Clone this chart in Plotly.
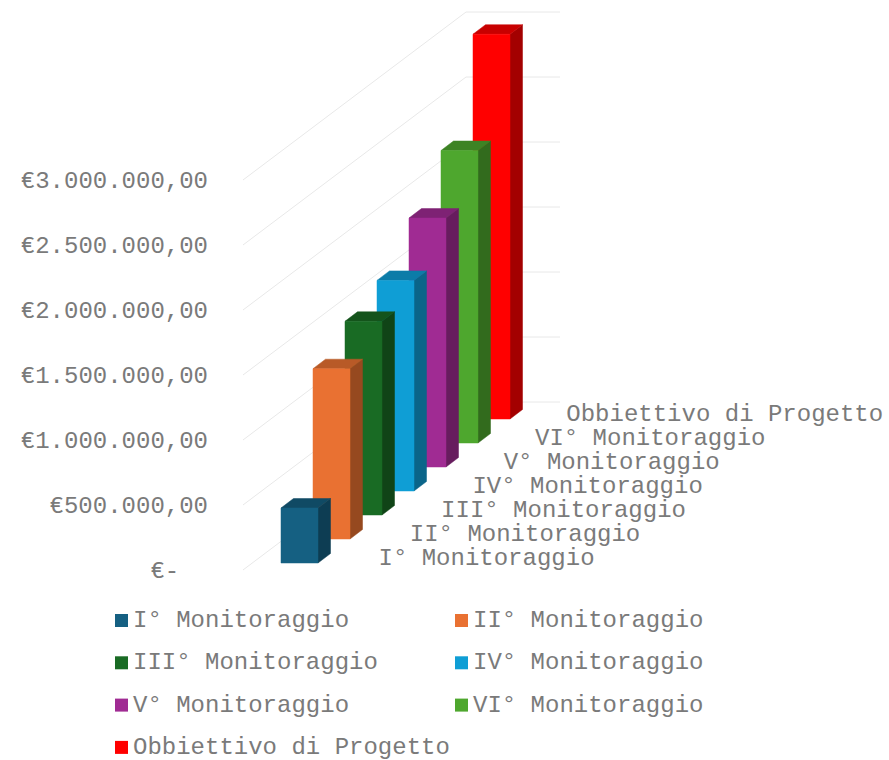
import plotly.graph_objects as go

categories = ["I° Monitoraggio", "II° Monitoraggio", "III° Monitoraggio", "IV° Monitoraggio",
              "V° Monitoraggio", "VI° Monitoraggio", "Obbiettivo di Progetto"]
values = [423000, 1310000, 1490000, 1620000, 1915000, 2250000, 2960000]
front_colors = ["#156082", "#E97132", "#196B24", "#0F9ED5", "#A02B93", "#4EA72E", "#FF0000"]
top_colors = ["#104A64", "#B85A27", "#14541C", "#0C7CA8", "#7E2274", "#3D8324", "#C80000"]
side_colors = ["#0D3D53", "#96491F", "#104417", "#0A6589", "#671C5E", "#326B1D", "#A30000"]
tick_values = [0, 500000, 1000000, 1500000, 2000000, 2500000, 3000000]
tick_labels = ["€-\u00a0\u00a0", "€500.000,00", "€1.000.000,00", "€1.500.000,00",
               "€2.000.000,00", "€2.500.000,00", "€3.000.000,00"]

W, H = 889, 760
FONT = "Liberation Mono, Courier New, monospace"
TEXT = "#7a7a7a"
EUR_PER_PX = 500000 / 65
Y_BOTTOM = -190 * EUR_PER_PX
Y_TOP = 570 * EUR_PER_PX


def px(n):
    return n * EUR_PER_PX


fig = go.Figure()


def poly(xs, ys, color):
    fig.add_trace(go.Scatter(x=xs + xs[:1], y=ys + ys[:1], mode="lines", fill="toself",
                             fillcolor=color, line=dict(color=color, width=0.5),
                             hoverinfo="skip", showlegend=False))


# walls: each gridline runs along the left wall, then along the back wall
for v in tick_values:
    fig.add_trace(go.Scatter(x=[243, 466, 560], y=[v, v + px(168), v + px(168)], mode="lines",
                             line=dict(color="#E8E8E8", width=1), hoverinfo="skip", showlegend=False))

# bars: back to front
BAR_W, DEPTH_X, DEPTH_Y, STEP_X, STEP_Y = 37, 12.5, 9.5, 32, 24
for i in reversed(range(len(values))):
    x0 = 281 + STEP_X * i
    x1 = x0 + BAR_W
    base = px(7 + STEP_Y * i)
    top = base + values[i]
    d = px(DEPTH_Y)
    poly([x1, x1 + DEPTH_X, x1 + DEPTH_X, x1], [base, base + d, top + d, top], side_colors[i])
    poly([x0, x1, x1 + DEPTH_X, x0 + DEPTH_X], [top, top, top + d, top + d], top_colors[i])
    poly([x0, x1, x1, x0], [base, base, top, top], front_colors[i])

# category axis labels
cat_x = [378.5 + 31.3 * i for i in range(len(categories))]
cat_y = [px(570 - 559 + 24 * i) for i in range(len(categories))]
fig.add_trace(go.Scatter(x=cat_x, y=cat_y, mode="text", text=categories, textposition="middle right",
                         textfont=dict(family=FONT, size=24, color=TEXT), hoverinfo="skip",
                         cliponaxis=False, showlegend=False))

# legend
shapes, annotations = [], []
for i, name in enumerate(categories):
    col, row = i % 2, i // 2
    lx = 115 + 340 * col
    ly = 620.5 + 42.3 * row
    shapes.append(dict(type="rect", xref="x", yref="paper", x0=lx, x1=lx + 13,
                       y0=1 - (ly + 6.5) / H, y1=1 - (ly - 6.5) / H,
                       fillcolor=front_colors[i], line=dict(width=0), layer="above"))
    annotations.append(dict(xref="x", yref="paper", x=lx + 16, y=1 - ly / H, text=name, showarrow=False,
                            xanchor="left", yanchor="middle", xshift=0,
                            font=dict(family=FONT, size=24, color=TEXT)))

fig.update_layout(
    width=W, height=H, margin=dict(l=0, r=0, t=0, b=0), autosize=False,
    paper_bgcolor="white", plot_bgcolor="white", showlegend=False, hovermode=False,
    shapes=shapes, annotations=annotations,
    xaxis=dict(range=[0, W], visible=False, domain=[0, 1], fixedrange=True),
    yaxis=dict(range=[Y_BOTTOM, Y_TOP], anchor="free", position=208 / W, showgrid=False, zeroline=False,
               showline=False, ticks="", tickmode="array", tickvals=tick_values, ticktext=tick_labels,
               tickfont=dict(family=FONT, size=24, color=TEXT), fixedrange=True, automargin=False),
)

fig.write_html("out.html", config={"displayModeBar": False},
               post_script="document.body.style.margin='0';document.body.style.overflow='hidden';")
